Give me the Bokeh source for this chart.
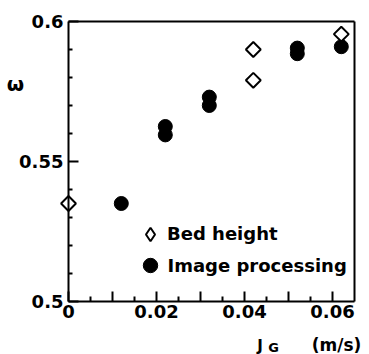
import numpy as np
from bokeh.plotting import figure
from bokeh.models import Range1d, FixedTicker, Legend, LegendItem, Label, LinearAxis
from bokeh.embed import file_html
from bokeh.resources import INLINE

# ---- data ----
bed_x = [0.0, 0.042, 0.042, 0.062]
bed_y = [0.535, 0.590, 0.579, 0.5955]
img_x = [0.012, 0.022, 0.022, 0.032, 0.032, 0.052, 0.052, 0.062]
img_y = [0.535, 0.5625, 0.5595, 0.573, 0.570, 0.5905, 0.5885, 0.591]

x_major = [0.0, 0.01, 0.02, 0.03, 0.04, 0.05, 0.06]
x_minor = [0.005, 0.015, 0.025, 0.035, 0.045, 0.055]
x_labels = {0.0: "0", 0.01: "", 0.02: "0.02", 0.03: "", 0.04: "0.04", 0.05: "", 0.06: "0.06"}
y_major = [0.5, 0.55, 0.6]
y_minor = [0.51, 0.52, 0.53, 0.54, 0.56, 0.57, 0.58, 0.59]
y_labels = {0.5: "0.5", 0.55: "0.55", 0.6: "0.6"}

FONT = "DejaVu Sans"
X0, X1 = 0.0, 0.065
Y0, Y1 = 0.5, 0.6

# layout: plot box from x=68..354 px, y=21..301 px on a 369x354 canvas
W, H = 369, 354
L, R, T, B = 68, 354, 21, 301
kx = (R - L) / (X1 - X0)
ky = (B - T) / (Y1 - Y0)

p = figure(width=W, height=H, output_backend="svg", toolbar_location=None,
           x_range=Range1d(X0 - L / kx, X1 + (W - R) / kx),
           y_range=Range1d(Y0 - (H - B) / ky, Y1 + T / ky),
           min_border_left=0, min_border_right=0, min_border_top=0, min_border_bottom=0,
           x_axis_location=None, y_axis_location=None)
p.xgrid.visible = False
p.ygrid.visible = False
p.outline_line_color = None
p.background_fill_color = "white"
p.border_fill_color = "white"

def style(ax, maj, mn, labs, minor_in):
    ax.ticker = FixedTicker(ticks=maj, minor_ticks=mn)
    ax.major_label_overrides = labs
    ax.axis_line_width = 2
    ax.major_tick_line_width = 2
    ax.minor_tick_line_width = 2
    ax.major_tick_out = 0
    ax.minor_tick_out = 0
    ax.major_tick_in = 10
    ax.minor_tick_in = minor_in
    ax.major_label_text_font = FONT
    ax.major_label_text_font_style = "bold"
    ax.major_label_text_font_size = "18px"
    ax.major_label_text_color = "black"

xax = LinearAxis(fixed_location=Y0, bounds=(X0, X1), major_label_standoff=3)
style(xax, x_major, x_minor, x_labels, 5)
yax = LinearAxis(fixed_location=X0, bounds=(Y0, Y1), major_label_standoff=5)
style(yax, y_major, y_minor, y_labels, 4)
p.add_layout(xax, "below")
p.add_layout(yax, "left")

# frame top and right edges
def edge(loc, bounds, side):
    ax = LinearAxis(fixed_location=loc, bounds=bounds, ticker=FixedTicker(ticks=[]),
                    major_label_text_font_size="0px", axis_line_width=2,
                    major_tick_in=0, major_tick_out=0, minor_tick_in=0, minor_tick_out=0)
    p.add_layout(ax, side)

edge(Y1, (X0, X1), "above")
edge(X1, (Y0, Y1), "right")

r_img = p.scatter(img_x, img_y, marker="circle", size=14, fill_color="black", line_color="black")
r_bed = p.scatter(bed_x, bed_y, marker="square", angle=np.pi / 4, size=10.5,
                  fill_color="white", line_color="black", line_width=2)
# legend key for the diamond (zero-size on the plot, only the legend shows it)
r_bed_key = p.scatter(bed_x, bed_y, marker="diamond", size=0,
                      fill_color="white", line_color="black", line_width=2)

def make_legend(label, rend, gw, cx, cy):
    lg = Legend(items=[LegendItem(label=label, renderers=[rend])],
                location=(cx - gw / 2, H - cy - gw / 2),
                glyph_width=gw, glyph_height=gw, label_height=gw, label_standoff=0,
                padding=0, margin=0, spacing=0, border_line_color=None,
                background_fill_alpha=0, label_text_font=FONT, label_text_font_style="bold",
                label_text_font_size="18px", label_text_color="black")
    p.add_layout(lg, "center")

make_legend("Bed height", r_bed_key, 34, 150, 233.5)
make_legend("Image processing", r_img, 36, 149.5, 265)

def lab(x, y, t, size):
    p.add_layout(Label(x=x, y=H - y, x_units="screen", y_units="screen", text=t,
                       text_align="center", text_baseline="middle", text_font=FONT,
                       text_font_style="bold", text_font_size=size, text_color="black"))

lab(15, 83, "ω", "20px")
lab(259.5, 345, "J", "15px")
lab(273, 347, "G", "13px")
lab(336, 344, "(m/s)", "17px")

open("out.html", "w").write(file_html(p, INLINE))
